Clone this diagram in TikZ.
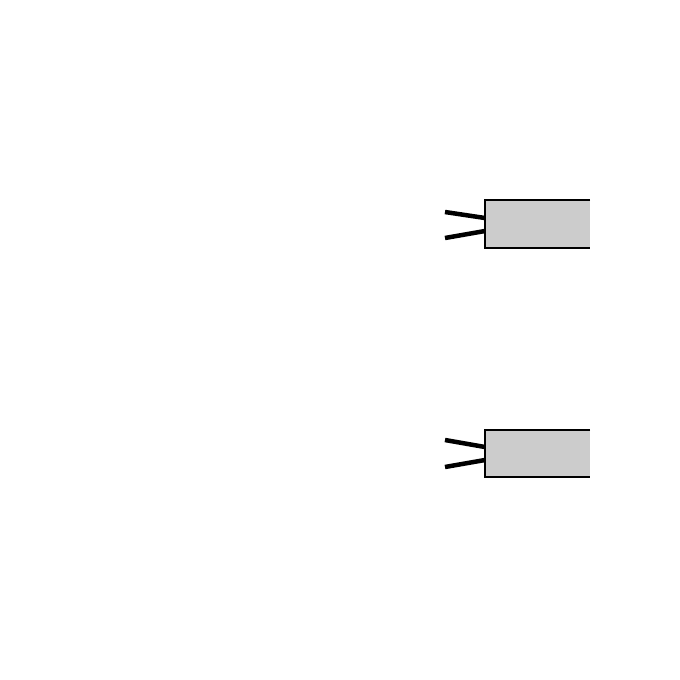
\documentclass[tikz,border=0pt]{standalone}
\usetikzlibrary{arrows.meta}

\begin{document}
\begin{tikzpicture}[x=1pt,y=-1pt]
\useasboundingbox (0,0) rectangle (680,680);
\fill [black!20] (485,200) rectangle (590,248);
\draw [line width=2.6pt] (590,200) -- (485,200) -- (485,248) -- (590,248);
\coordinate (a1) at (445,212);
\coordinate (a2) at (445,238);
\coordinate (b1) at (485,218);
\coordinate (b2) at (485,231);
\draw [line width=4.5pt] (a1) -- (b1);
\draw [line width=4.5pt] (a2) -- (b2);
\fill [black!20] (485,430) rectangle (590,477);
\draw [line width=2.6pt] (590,430) -- (485,430) -- (485,477) -- (590,477);
\coordinate (c1) at (445,440);
\coordinate (c2) at (445,467);
\coordinate (d1) at (485,447);
\coordinate (d2) at (485,460);
\draw [line width=4.5pt] (c1) -- (d1);
\draw [line width=4.5pt] (c2) -- (d2);
\end{tikzpicture}
\end{document}
